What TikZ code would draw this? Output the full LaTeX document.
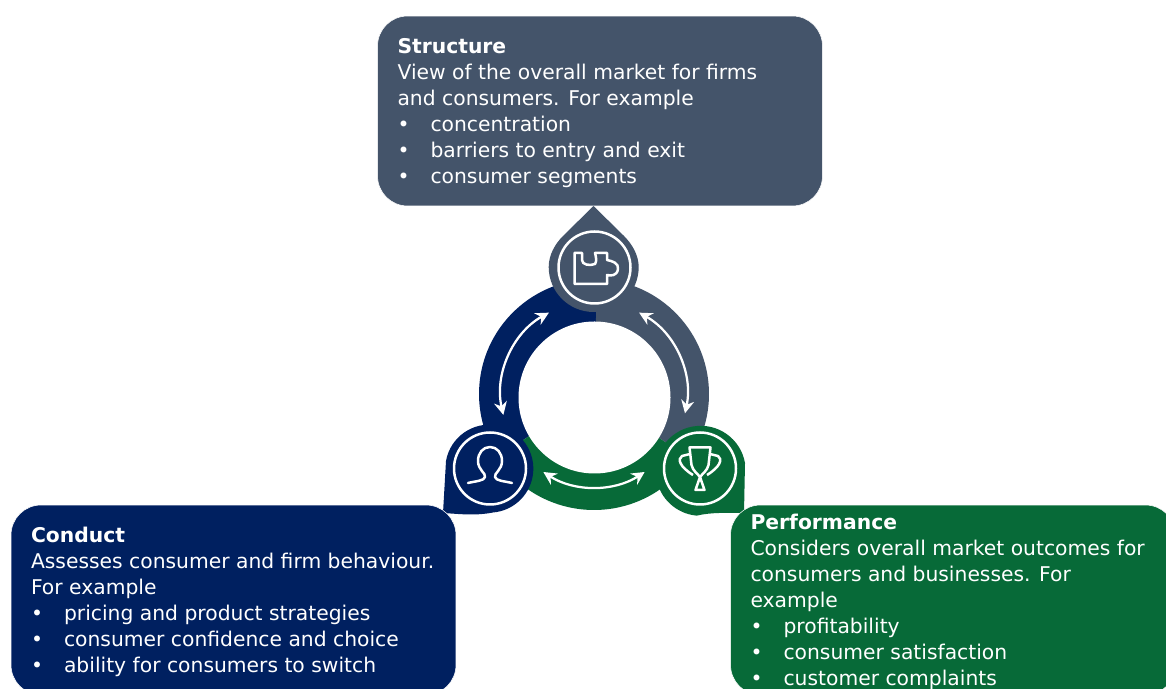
\documentclass[tikz,border=0pt]{standalone}
\usepackage{fontspec}
\setmainfont{DejaVu Sans}
\usetikzlibrary{arrows.meta}
\definecolor{slate}{HTML}{44546A}
\definecolor{navy}{HTML}{002060}
\definecolor{forest}{HTML}{076A38}
\newlength{\unit}
\setlength{\unit}{0.02cm}
\newcommand{\bul}[1]{\makebox[33\unit][l]{\textbullet}#1}
\begin{document}
\begin{tikzpicture}[x=0.02cm, y=0.02cm, line join=round,
        box/.style={rounded corners=0.6cm, minimum width=8.9cm, minimum height=3.8cm, inner sep=0pt,
            draw=white, line width=0.3pt,
            text=white, text width=8.1cm, align=flush left, font=\fontsize{11.55pt}{0.52cm}\selectfont,
            execute at begin node={\leavevmode\vadjust pre{\vskip 0.08cm}}},
        ring/.style={white, line width=0.05cm},
        swing/.style={white, line width=0.045cm, {Stealth[length=0.26cm,width=0.26cm]}-{Stealth[length=0.26cm,width=0.26cm]}},
        icon/.style={white, line width=0.05cm}]
    \useasboundingbox (0,0) rectangle (1166,689);
    \fill[white] (0,0) rectangle (1166,689);
    % the ring, in three parts
    \fill[navy] (597,295) -- (594,295) ++(88.5:115) arc[start angle=88.5, end angle=213, radius=115] -- (594,295) -- cycle;
    \fill[slate] (597,295) -- (594,295) ++(88.5:115) arc[start angle=88.5, end angle=-34, radius=115] -- (594,295) -- cycle;
    \fill[forest] (594,295) -- ++(213:116) arc[start angle=213, end angle=326, radius=116] -- cycle;
    \fill[white] (594.5,291.5) circle[radius=76];
    % the drops
    \fill[slate] (593.5,483) -- (563,453) .. controls (555,445) and (548.7,434) .. (548.7,422)
        arc[start angle=180, end angle=360, radius=45]
        .. controls (638.7,434) and (632,445) .. (624,453) -- cycle;
    \fill[navy] (443,176) -- (446,228) arc[start angle=170, end angle=-85, radius=44]
        .. controls (475,173) and (460,175) .. (443,176) -- cycle;
    \fill[forest] (744,176) -- (745,226) arc[start angle=10, end angle=265, radius=45]
        .. controls (712,177) and (728,176) .. (744,176) -- cycle;
    % the white rings
    \draw[ring] (594.5,421.5) circle[radius=36];
    \draw[ring] (490,220.5) circle[radius=36];
    \draw[ring] (700,220.5) circle[radius=36];
    % the arrows
    \draw[swing] (594,295) ++(119:93) arc[start angle=119, end angle=193, radius=93];
    \draw[swing] (594,295) ++(61:93) arc[start angle=61, end angle=-12, radius=93];
    \draw[swing] (594,295) ++(237:93) arc[start angle=237, end angle=303, radius=93];
    % puzzle piece
    \draw[icon] (574.5,436) -- (582,436) -- (582,429) .. controls (582,424) and (590,423) .. (595,425)
        .. controls (597,428) and (596,432) .. (595,436) -- (607,436) -- (607,429)
        .. controls (612,428) and (619,426) .. (618,420) .. controls (617,413) and (611,413) .. (607,414)
        -- (607,405) -- (574.5,405) -- cycle;
    % person
    \draw[icon, line cap=round] (468,206) .. controls (476,208) and (484,208) .. (485,212)
        .. controls (486,216) and (478,219) .. (478,228)
        .. controls (478,236) and (483,242) .. (490,242)
        .. controls (497,242) and (502,236) .. (502,228)
        .. controls (502,219) and (494,216) .. (495,212)
        .. controls (496,208) and (504,208) .. (512,206);
    % cup
    \draw[icon] (689.5,241.5) -- (710.5,241.5) -- (708.5,224) .. controls (707,218) and (703,216) .. (700,212)
        .. controls (697,216) and (693,218) .. (691.5,224) -- cycle;
    \draw[icon] (700,212) -- (704.5,199) -- (695.5,199) -- cycle;
    \draw[icon] (690,235) -- (682,233) .. controls (677,230) and (680,222) .. (693,214);
    \draw[icon] (710,235) -- (718,233) .. controls (723,230) and (720,222) .. (707,214);
    % the boxes
    \node[box, fill=slate] (structure) at (600,578) {\textbf{Structure}\\View of the overall market for firms\\and consumers. For example\\\bul{concentration}\\\bul{barriers to entry and exit}\\\bul{consumer segments}};
    \node[box, fill=navy] (conduct) at (233.5,89) {\textbf{Conduct}\\Assesses consumer and firm behaviour.\\For example\\\bul{pricing and product strategies}\\\bul{consumer confidence and choice}\\\bul{ability for consumers to switch}};
    \node[box, fill=forest] (performance) at (953,89) {\textbf{Performance}\\Considers overall market outcomes for\\consumers and businesses. For\\example\\\bul{profitability}\\\bul{consumer satisfaction}\\\bul{customer complaints}};
\end{tikzpicture}
\end{document}
